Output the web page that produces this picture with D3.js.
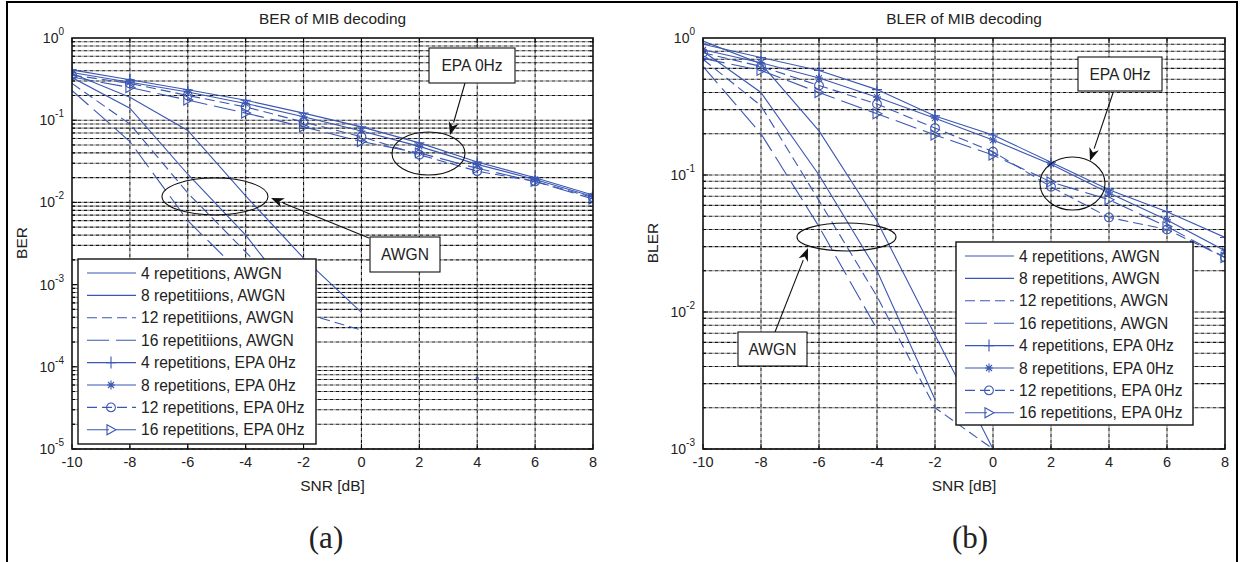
<!DOCTYPE html>
<html>
<head>
<meta charset="utf-8">
<script src="https://cdnjs.cloudflare.com/ajax/libs/d3/7.8.5/d3.min.js"></script>
<style>
  body { margin: 0; background: #fff; }
  text { font-family: "Liberation Sans", Arial, sans-serif; fill: #222; }
</style>
</head>
<body>
<svg id="chart" width="1242" height="562"></svg>
<script>
// SNR axis shared by both panels
var snr = [-10, -8, -6, -4, -2, 0, 2, 4, 6, 8];
var xTicks = [-10, -8, -6, -4, -2, 0, 2, 4, 6, 8];

// (a) BER, AWGN (null = not plotted)
var berAwgn4  = [0.37, 0.19, 0.075, 0.012, 2.1e-3, 4.6e-4, null, null, null, null];
var berAwgn8  = [0.33, 0.14, 0.022, 4.0e-3, 5.0e-4, null, null, 7.3e-5, null, null];
var berAwgn12 = [0.28, 0.09, 0.013, 2.5e-3, 4.5e-4, 2.8e-4, null, null, null, null];
var berAwgn16 = [0.23, 0.055, 6.0e-3, 1.2e-3, 1.5e-4, null, null, null, null, null];
// (a) BER, EPA 0Hz
var berEpa4  = [0.41, 0.31, 0.235, 0.175, 0.122, 0.083, 0.053, 0.031, 0.020, 0.0123];
var berEpa8  = [0.38, 0.29, 0.22, 0.16, 0.11, 0.074, 0.048, 0.029, 0.019, 0.0118];
var berEpa12 = [0.355, 0.28, 0.20, 0.145, 0.095, 0.063, 0.038, 0.024, 0.018, 0.0115];
var berEpa16 = [0.335, 0.25, 0.176, 0.122, 0.083, 0.055, 0.040, 0.026, 0.018, 0.011];

// (b) BLER, AWGN
var blerAwgn4  = [0.95, 0.65, 0.21, 0.046, 6.8e-3, 1.0e-3, null, null, null, null];
var blerAwgn8  = [0.80, 0.40, 0.10, 0.020, 2.3e-3, null, null, 1.0e-3, null, null];
var blerAwgn12 = [0.70, 0.32, 0.065, 0.013, 2.0e-3, 1.0e-3, null, null, null, null];
var blerAwgn16 = [0.62, 0.20, 0.042, 7.5e-3, null, null, null, null, null, null];
// (b) BLER, EPA 0Hz
var blerEpa4  = [0.90, 0.72, 0.58, 0.42, 0.27, 0.196, 0.124, 0.078, 0.054, 0.035];
var blerEpa8  = [0.82, 0.66, 0.51, 0.37, 0.26, 0.18, 0.12, 0.074, 0.047, 0.028];
var blerEpa12 = [0.78, 0.62, 0.45, 0.33, 0.22, 0.148, 0.082, 0.049, 0.040, 0.025];
var blerEpa16 = [0.71, 0.58, 0.40, 0.28, 0.196, 0.14, 0.089, 0.066, 0.042, 0.025];

var legendA = ["4 repetitions, AWGN", "8 repetitiions, AWGN", "12 repetitiions, AWGN", "16 repetitiions, AWGN",
               "4 repetitions, EPA 0Hz", "8 repetitions, EPA 0Hz", "12 repetitions, EPA 0Hz", "16 repetitions, EPA 0Hz"];
var legendB = ["4 repetitions, AWGN", "8 repetitions, AWGN", "12 repetitions, AWGN", "16 repetitions, AWGN",
               "4 repetitions, EPA 0Hz", "8 repetitions, EPA 0Hz", "12 repetitions, EPA 0Hz", "16 repetitions, EPA 0Hz"];

var BLUE = "#3b57b3";
// line style per series index (same order as the legend)
var styles = [
  {dash: null, marker: null},
  {dash: null, marker: null},
  {dash: "10,5", marker: null},
  {dash: "22,7", marker: null},
  {dash: null, marker: "plus"},
  {dash: null, marker: "star"},
  {dash: "10,5", marker: "circle"},
  {dash: "22,7", marker: "tri"}
];

var svg = d3.select("#chart");

// outer frame
svg.append("rect").attr("x", 7).attr("y", 2).attr("width", 1230).attr("height", 580)
  .attr("fill", "none").attr("stroke", "#000").attr("stroke-width", 2);

var uid = 0;

function marker(g, type, px, py) {
  var m = g.append("path").attr("transform", "translate(" + px + "," + py + ")")
    .attr("fill", "none").attr("stroke", BLUE).attr("stroke-width", 1.1);
  if (type == "plus") m.attr("d", "M-5,0H5M0,-6V6");
  else if (type == "star") m.attr("d", "M-4,0H4M0,-4.5V4.5M-3,-3L3,3M-3,3L3,-3");
  else if (type == "circle") m.attr("d", d3.symbol(d3.symbolCircle, 60)());
  else if (type == "tri") m.attr("d", "M-4,-5L5,0L-4,5Z");
}

function panel(cfg) {
  var x = d3.scaleLinear().domain([-10, 8]).range([cfg.left, cfg.right]);
  var y = d3.scaleLog().domain([cfg.ymin, 1]).range([cfg.bottom, cfg.top]);
  var g = svg.append("g");
  var id = "clip" + (uid++);
  svg.append("clipPath").attr("id", id).append("rect")
    .attr("x", cfg.left).attr("y", cfg.top)
    .attr("width", cfg.right - cfg.left).attr("height", cfg.bottom - cfg.top);

  // grid: every decade subdivision, and major x ticks
  var minor = [];
  for (var e = Math.log10(cfg.ymin); e < 0; e++)
    for (var k = 1; k < 10; k++) minor.push(k * Math.pow(10, e));
  var grid = g.append("g");
  [["#8a8a8a", 3], ["#111", 0]].forEach(function(s) {
    grid.selectAll(null).data(minor).enter().append("line")
      .attr("x1", cfg.left).attr("x2", cfg.right)
      .attr("y1", function(d) { return y(d); }).attr("y2", function(d) { return y(d); })
      .attr("stroke", s[0]).attr("stroke-width", 1.1).attr("stroke-dasharray", "3,3").attr("stroke-dashoffset", s[1]);
    grid.selectAll(null).data(xTicks.slice(1, -1)).enter().append("line")
      .attr("y1", cfg.top).attr("y2", cfg.bottom)
      .attr("x1", function(d) { return x(d); }).attr("x2", function(d) { return x(d); })
      .attr("stroke", s[0]).attr("stroke-width", 1.1).attr("stroke-dasharray", "3,3").attr("stroke-dashoffset", s[1]);
  });

  // ticks
  var tk = g.append("g").attr("stroke", "#000");
  xTicks.forEach(function(d) {
    tk.append("line").attr("x1", x(d)).attr("x2", x(d)).attr("y1", cfg.bottom).attr("y2", cfg.bottom - 5);
    tk.append("line").attr("x1", x(d)).attr("x2", x(d)).attr("y1", cfg.top).attr("y2", cfg.top + 5);
  });
  minor.forEach(function(d, i) {
    var len = (i % 9 == 0) ? 5 : 3;
    tk.append("line").attr("x1", cfg.left).attr("x2", cfg.left + len).attr("y1", y(d)).attr("y2", y(d));
    tk.append("line").attr("x1", cfg.right).attr("x2", cfg.right - len).attr("y1", y(d)).attr("y2", y(d));
  });

  // series
  var lines = g.append("g").attr("clip-path", "url(#" + id + ")");
  var line = d3.line()
    .defined(function(d) { return d[1] != null; })
    .x(function(d) { return x(d[0]); })
    .y(function(d) { return y(d[1]); });
  cfg.series.forEach(function(vals, i) {
    var pts = snr.map(function(s, j) { return [s, vals[j]]; });
    lines.append("path").attr("d", line(pts))
      .attr("fill", "none").attr("stroke", BLUE).attr("stroke-width", 1.1)
      .attr("stroke-dasharray", styles[i].dash);
    pts.forEach(function(p, j) {
      if (p[1] == null) return;
      if (styles[i].marker) marker(lines, styles[i].marker, x(p[0]), y(p[1]));
      else {
        var prev = j > 0 ? pts[j - 1][1] : null, next = j < pts.length - 1 ? pts[j + 1][1] : null;
        if (prev == null && next == null)
          lines.append("circle").attr("cx", x(p[0])).attr("cy", y(p[1])).attr("r", 1.6).attr("fill", BLUE);
      }
    });
  });

  // axis box
  g.append("rect").attr("x", cfg.left).attr("y", cfg.top)
    .attr("width", cfg.right - cfg.left).attr("height", cfg.bottom - cfg.top)
    .attr("fill", "none").attr("stroke", "#111").attr("stroke-width", 1.6);

  // tick labels
  xTicks.forEach(function(d) {
    g.append("text").attr("x", x(d)).attr("y", cfg.bottom + 18).attr("text-anchor", "middle")
      .attr("font-size", 14.5).text(d);
  });
  for (var e2 = Math.log10(cfg.ymin); e2 <= 0; e2++) {
    var t = g.append("text").attr("x", cfg.left - 8).attr("y", y(Math.pow(10, e2)) + 5)
      .attr("text-anchor", "end").attr("font-size", 14);
    t.append("tspan").text("10");
    t.append("tspan").attr("dy", -8).attr("font-size", 10).text(e2);
  }

  // titles
  var cx = (cfg.left + cfg.right) / 2;
  g.append("text").attr("x", cx).attr("y", 24).attr("text-anchor", "middle").attr("font-size", 15.4).text(cfg.title);
  g.append("text").attr("x", cx).attr("y", 491).attr("text-anchor", "middle").attr("font-size", 15.5).text("SNR [dB]");
  g.append("text").attr("transform", "translate(" + cfg.ylabX + ",243) rotate(-90)")
    .attr("text-anchor", "middle").attr("font-size", 15.5).text(cfg.ylabel);
  g.append("text").attr("x", cfg.capX).attr("y", 548).attr("text-anchor", "middle")
    .style("font-family", "'Liberation Serif', 'Times New Roman', serif").attr("font-size", 31).text(cfg.caption);

  // annotations
  cfg.ellipses.forEach(function(el) {
    g.append("ellipse").attr("cx", el[0]).attr("cy", el[1]).attr("rx", el[2]).attr("ry", el[3])
      .attr("fill", "none").attr("stroke", "#111").attr("stroke-width", 1.1);
  });
  cfg.arrows.forEach(function(a) {
    var ang = Math.atan2(a[3] - a[1], a[2] - a[0]);
    var L = 13, W = 5;
    var bx = a[2] - L * Math.cos(ang), by = a[3] - L * Math.sin(ang);
    g.append("line").attr("x1", a[0]).attr("y1", a[1]).attr("x2", bx).attr("y2", by)
      .attr("stroke", "#111").attr("stroke-width", 1.1);
    g.append("path").attr("fill", "#111").attr("d",
      "M" + a[2] + "," + a[3] +
      "L" + (bx + W * Math.sin(ang)) + "," + (by - W * Math.cos(ang)) +
      "L" + (a[2] - 9 * Math.cos(ang)) + "," + (a[3] - 9 * Math.sin(ang)) +
      "L" + (bx - W * Math.sin(ang)) + "," + (by + W * Math.cos(ang)) + "Z");
  });
  cfg.boxes.forEach(function(b) {
    g.append("rect").attr("x", b[0]).attr("y", b[1]).attr("width", b[2]).attr("height", b[3])
      .attr("fill", "#fff").attr("stroke", "#111").attr("stroke-width", 1.1);
    g.append("text").attr("x", b[0] + b[2] / 2).attr("y", b[1] + b[3] / 2 + 5.5)
      .attr("text-anchor", "middle").attr("font-size", 15.6).text(b[4]);
  });

  // legend
  var lg = cfg.legend;
  var lgG = g.append("g");
  lgG.append("rect").attr("x", lg.x).attr("y", lg.y).attr("width", lg.w).attr("height", lg.h)
    .attr("fill", "#fff").attr("stroke", "#111").attr("stroke-width", 1.4);
  cfg.labels.forEach(function(lab, i) {
    var ry = lg.y + 14 + i * 22.4;
    lgG.append("line").attr("x1", lg.x + 9).attr("x2", lg.x + 58).attr("y1", ry).attr("y2", ry)
      .attr("stroke", BLUE).attr("stroke-width", 1.1).attr("stroke-dasharray", styles[i].dash);
    if (styles[i].marker) marker(lgG, styles[i].marker, lg.x + 33, ry);
    lgG.append("text").attr("x", lg.x + 63).attr("y", ry + 5.5).attr("font-size", 15.6).text(lab);
  });
}

panel({
  left: 72, right: 593, top: 38, bottom: 449, ymin: 1e-5,
  title: "BER of MIB decoding", ylabel: "BER", ylabX: 27, caption: "(a)", capX: 326,
  series: [berAwgn4, berAwgn8, berAwgn12, berAwgn16, berEpa4, berEpa8, berEpa12, berEpa16],
  labels: legendA,
  legend: {x: 78, y: 259, w: 238, h: 185},
  ellipses: [[215, 196.5, 53, 18.5], [428.5, 153.5, 36.5, 21.5]],
  arrows: [[369, 238, 271, 198], [465, 83, 450, 135]],
  boxes: [[370, 237, 70, 35, "AWGN"], [429, 48, 86, 35, "EPA 0Hz"]]
});

panel({
  left: 703, right: 1225, top: 38, bottom: 449, ymin: 1e-3,
  title: "BLER of MIB decoding", ylabel: "BLER", ylabX: 658, caption: "(b)", capX: 970,
  series: [blerAwgn4, blerAwgn8, blerAwgn12, blerAwgn16, blerEpa4, blerEpa8, blerEpa12, blerEpa16],
  labels: legendB,
  legend: {x: 956, y: 242, w: 237, h: 183},
  ellipses: [[846.5, 237, 49.5, 14], [1072.5, 183.5, 32.5, 26.5]],
  arrows: [[775, 332, 808, 248], [1113, 93, 1090, 161]],
  boxes: [[738, 332, 69, 34, "AWGN"], [1078, 57, 84, 34, "EPA 0Hz"]]
});
</script>
</body>
</html>
